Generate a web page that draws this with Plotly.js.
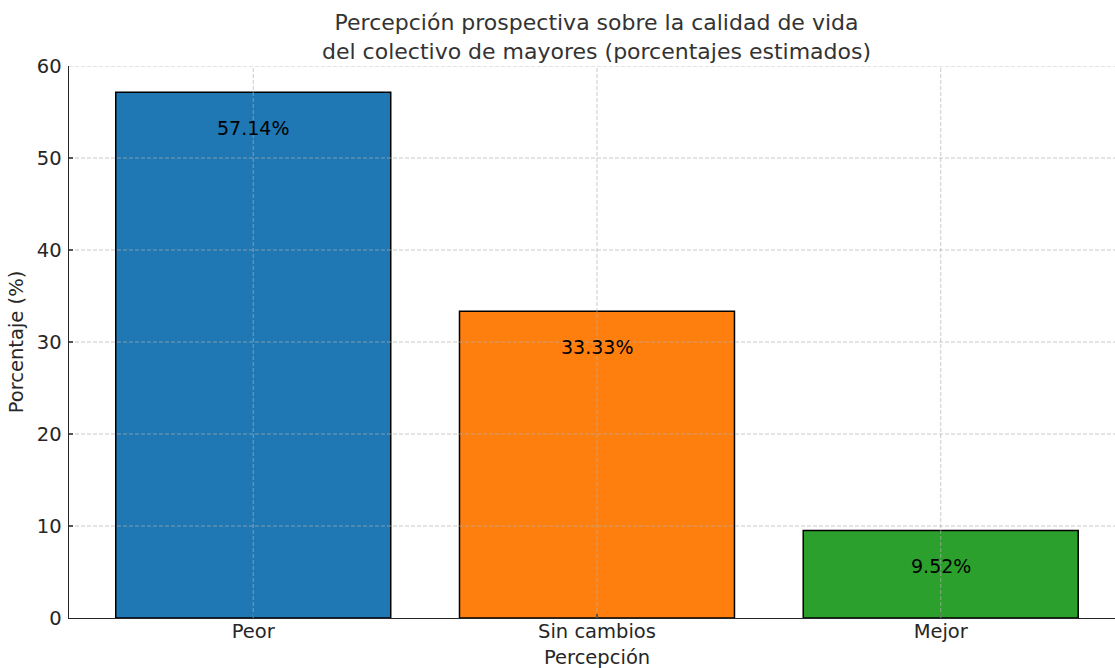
<!DOCTYPE html>
<html>
<head>
<meta charset="utf-8">
<script src="https://cdn.plot.ly/plotly-3.0.1.min.js"></script>
<style>
  html, body { margin: 0; padding: 0; background: #ffffff; }
  #chart { width: 1115px; height: 668px; }
</style>
</head>
<body>
<div id="chart"></div>
<script>
const categories = ["Peor", "Sin cambios", "Mejor"];
const percentages = [57.14, 33.33, 9.52];
const barColors = ["#1f77b4", "#ff7f0e", "#2ca02c"];
const yTickValues = [0, 10, 20, 30, 40, 50, 60];
const titleLines = ["Percepción prospectiva sobre la calidad de vida", "del colectivo de mayores (porcentajes estimados)"];
const xTitle = "Percepción";
const yTitle = "Porcentaje (%)";

const FONT = "DejaVu Sans, sans-serif";
const LABEL_SIZE = 19.5;
const gridStyle = { color: "rgba(176,176,176,0.75)", width: 0.9, dash: "4px,2px" };

const xIdx = categories.map((c, i) => i);

const trace = {
  type: "bar",
  x: xIdx,
  y: percentages,
  width: 0.8,
  marker: { color: barColors, line: { color: "#000000", width: 1.5 } },
  hoverinfo: "skip"
};

const shapes = [];
yTickValues.forEach(v => {
  if (v === 0) return;
  shapes.push({ type: "line", layer: "above", xref: "paper", yref: "y", x0: 0, x1: 1, y0: v, y1: v, line: gridStyle });
});
xIdx.forEach(i => {
  shapes.push({ type: "line", layer: "above", xref: "x", yref: "paper", x0: i, x1: i, y0: 0, y1: 1, line: gridStyle });
});

const annotations = percentages.map((v, i) => ({
  x: i, y: v, xref: "x", yref: "y",
  text: v.toFixed(2) + "%",
  showarrow: false,
  yanchor: "middle",
  yshift: -36,
  font: { family: FONT, size: 19, color: "#000000" }
}));
annotations.push({
  x: 1, xref: "x", y: 0, yref: "paper", yanchor: "middle", yshift: -39,
  text: xTitle, showarrow: false,
  font: { family: FONT, size: LABEL_SIZE, color: "#262626" }
});
annotations.push({
  x: 1, xref: "x", y: 1, yref: "paper", yanchor: "bottom", yshift: 0,
  text: titleLines.join("<br>"), showarrow: false,
  font: { family: FONT, size: 22, color: "#333333" }
});

const layout = {
  width: 1115, height: 668,
  margin: { l: 69, r: 0, t: 66, b: 50, pad: 0 },
  paper_bgcolor: "#ffffff", plot_bgcolor: "#ffffff",
  font: { family: FONT, size: LABEL_SIZE, color: "#262626" },
  showlegend: false,
  xaxis: {
    range: [-0.536, 2.507],
    tickmode: "array", tickvals: xIdx, ticktext: categories,
    ticks: "inside", ticklen: 4, tickwidth: 1.2, tickcolor: "#262626",
    showgrid: false, zeroline: false,
    showline: true, linecolor: "#262626", linewidth: 1.4,
    tickfont: { family: FONT, size: LABEL_SIZE, color: "#262626" },
    ticklabelstandoff: -5
  },
  yaxis: {
    range: [0, 60],
    tickmode: "array", tickvals: yTickValues,
    ticks: "inside", ticklen: 4, tickwidth: 1.2, tickcolor: "#262626",
    showgrid: false, zeroline: false,
    showline: true, linecolor: "#262626", linewidth: 1.4,
    tickfont: { family: FONT, size: LABEL_SIZE, color: "#262626" },
    ticklabelstandoff: 2,
    title: { text: yTitle, font: { family: FONT, size: LABEL_SIZE, color: "#262626" }, standoff: 8 }
  },
  shapes: shapes,
  annotations: annotations
};

Plotly.newPlot("chart", [trace], layout, { displayModeBar: false, staticPlot: true });
</script>
</body>
</html>
